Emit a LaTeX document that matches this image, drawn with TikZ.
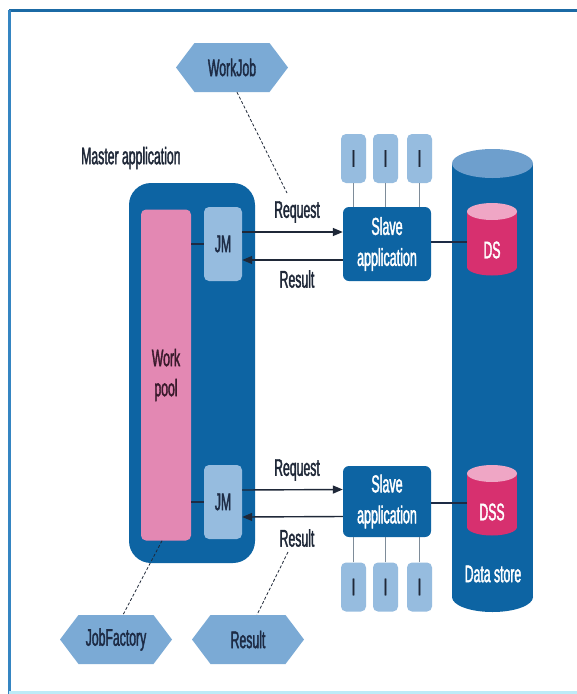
\documentclass[tikz,border=0pt]{standalone}
\usepackage{fontspec}
\setmainfont{Liberation Sans}[FakeStretch=0.51,FakeBold=1.6]
\usetikzlibrary{shapes.symbols,arrows.meta}
\definecolor{dblue}{HTML}{0D64A3}
\definecolor{lblue}{HTML}{96BCDF}
\definecolor{hexblue}{HTML}{7BAAD5}
\definecolor{topblue}{HTML}{6E9FCD}
\definecolor{pinkpool}{HTML}{E388B3}
\definecolor{dsred}{HTML}{D7306F}
\definecolor{dstop}{HTML}{EFA6C5}
\definecolor{txtdark}{HTML}{1F2838}
\definecolor{navytxt}{HTML}{1D2B45}
\definecolor{pooltxt}{HTML}{3A1A2C}
\definecolor{greyline}{HTML}{7E8C99}
\definecolor{frametop}{HTML}{1B6AA5}
\definecolor{frameleft}{HTML}{3585C2}
\definecolor{framebot}{HTML}{BDEBF7}
\begin{document}
\begin{tikzpicture}[x=1pt,y=-1pt,
  font=\fontsize{24}{30}\selectfont,
  box/.style={inner sep=0pt, align=center},
  ibox/.style={box, fill=lblue, rounded corners=5pt, minimum width=25pt, minimum height=49pt, text=txtdark},
  jmbox/.style={box, fill=lblue, rounded corners=5pt, minimum width=38pt, minimum height=74pt, text=navytxt},
  slavebox/.style={box, fill=dblue, rounded corners=6pt, minimum width=88pt, text=white, font=\fontsize{24.5}{31}\selectfont},
  hexa/.style={signal, signal to=west and east, signal pointer angle=106, fill=hexblue, minimum width=112pt, minimum height=49pt, inner sep=0pt, text=navytxt},
  lbl/.style={inner sep=0pt, text=txtdark},
  arr/.style={line width=1.4pt, draw=txtdark, -{Triangle[length=10pt,width=8pt]}},
  conn/.style={line width=0.9pt, draw=greyline},
  darkconn/.style={line width=1.2pt, draw=navytxt},
  dashline/.style={line width=0.8pt, draw=txtdark, dash pattern=on 3pt off 2pt}
]
\useasboundingbox (0,0) rectangle (577,694);
% frame
\fill[white] (0,0) rectangle (577,694);
\draw[line width=3pt, frametop] (9,10) -- (577,10);
\draw[line width=3pt, frameleft] (9,10) -- (9,694);
\draw[line width=3pt, framebot] (9,692) -- (577,692);

% hexagons
\node[hexa] (workjob) at (232,67.5) {WorkJob};
\node[hexa] (jobfactory) at (116,639.5) {JobFactory};
\node[hexa] (resulthex) at (248,639.5) {Result};

% master application
\node[lbl, anchor=west] (mastertitle) at (81,158) {Master application};
\node[box, fill=dblue, rounded corners=22pt, minimum width=126pt, minimum height=380pt] (master) at (192,373) {};
\node[box, fill=pinkpool, rounded corners=5pt, minimum width=50pt, minimum height=331pt, text=pooltxt] (pool) at (166,375) {Work\\pool};
\node[jmbox] (jm1) at (223,244) {JM};
\node[jmbox] (jm2) at (223,502) {JM};
\draw[darkconn] (pool.east |- jm1) -- (jm1.west);
\draw[darkconn] (pool.east |- jm2) -- (jm2.west);

% slave applications
\node[slavebox, minimum height=74pt] (slave1) at (387,244) {Slave\\application};
\node[slavebox, minimum height=71pt] (slave2) at (387,501.5) {Slave\\application};

% I boxes
\node[ibox] (it1) at (353.5,158.5) {I};
\node[ibox] (it2) at (385.5,158.5) {I};
\node[ibox] (it3) at (419.5,158.5) {I};
\node[ibox] (ib1) at (353.5,587) {I};
\node[ibox] (ib2) at (385.5,587) {I};
\node[ibox] (ib3) at (419.5,587) {I};
\foreach \n in {it1,it2,it3} \draw[conn] (\n.south) -- (\n.south |- slave1.north);
\foreach \n in {ib1,ib2,ib3} \draw[conn] (\n.north) -- (\n.north |- slave2.south);

% data store cylinder
\fill[dblue] (452,164) rectangle (533,597);
\fill[dblue] (492.5,597) ellipse [x radius=40.5, y radius=15];
\fill[topblue] (492.5,163.5) ellipse [x radius=40.5, y radius=14.5];
\node[lbl, text=white] (store) at (493,574) {Data store};

% DS cylinders
\fill[dsred] (467,211.5) rectangle (517,267);
\fill[dsred] (492,267) ellipse [x radius=25, y radius=8.5];
\fill[dstop] (492,211.5) ellipse [x radius=25, y radius=8.5];
\node[box, minimum width=50pt, text=white] (ds) at (492,250) {DS};
\fill[dsred] (467,473.5) rectangle (517,527);
\fill[dsred] (492,527) ellipse [x radius=25, y radius=8.5];
\fill[dstop] (492,473.5) ellipse [x radius=25, y radius=8.5];
\node[box, minimum width=50pt, text=white] (dss) at (492,512) {DSS};
\draw[darkconn] (slave1.east |- 0,242) -- (ds.west |- 0,242);
\draw[darkconn] (slave2.east |- 0,503) -- (dss.west |- 0,503);

% requests / results
\draw[arr] ([yshift=12pt]jm1.east) -- ([yshift=12pt]slave1.west);
\draw[arr] ([yshift=-16pt]slave1.west) -- ([yshift=-16pt]jm1.east);
\draw[arr] ([yshift=12pt]jm2.east) -- ([yshift=12pt]slave2.west);
\draw[arr] ([yshift=-15pt]slave2.west) -- ([yshift=-15pt]jm2.east);
\node[lbl] (req1) at (297,212) {Request};
\node[lbl] (res1) at (297,279) {Result};
\node[lbl] (req2) at (297,470) {Request};
\node[lbl] (res2) at (297,538) {Result};

% dashed associations
\coordinate (wjend) at (287,193);
\coordinate (resstart) at (288,552);
\draw[dashline] ([xshift=5pt]workjob.south) -- (wjend);
\draw[dashline] ([xshift=-4pt]pool.south) -- ([xshift=7pt]jobfactory.north);
\draw[dashline] (resstart) -- ([xshift=9pt]resulthex.north);
\end{tikzpicture}
\end{document}
